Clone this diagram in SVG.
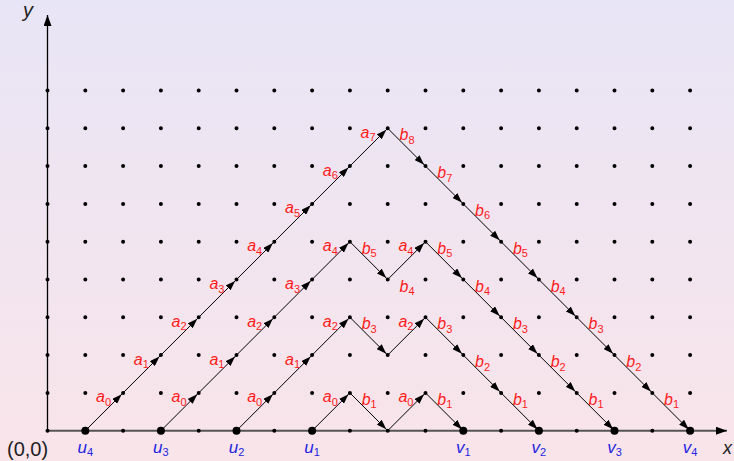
<svg xmlns="http://www.w3.org/2000/svg" width="734" height="461" viewBox="0 0 734 461">
<defs>
<linearGradient id="bg" x1="0" y1="0" x2="0" y2="1">
<stop offset="0" stop-color="#e8e5f6"/>
<stop offset="1" stop-color="#f9e4e9"/>
</linearGradient>
<marker id="ar" markerUnits="userSpaceOnUse" viewBox="0 0 10 7" markerWidth="10" markerHeight="7" refX="12" refY="3.5" orient="auto">
<path d="M0,0 L10,3.5 L0,7 z" fill="#000"/>
</marker>
<marker id="ax" markerUnits="userSpaceOnUse" viewBox="0 0 11 8" markerWidth="11" markerHeight="8" refX="11" refY="4" orient="auto">
<path d="M0,0 L11,4 L0,8 z" fill="#000"/>
</marker>
<style>
.grid{fill:none;stroke:#000;stroke-width:4;stroke-linecap:round;stroke-dasharray:0 37.8}
.seg line{stroke:#000;stroke-width:1;marker-end:url(#ar)}
.big{fill:#000}
.lab{font-family:"Liberation Sans",Arial,sans-serif;font-size:16px;font-style:italic;fill:#ff1a1a}
.lab tspan{font-size:11px;font-style:normal}
.uv{font-family:"Liberation Sans",Arial,sans-serif;font-size:17px;font-style:italic;fill:#2424e0;text-anchor:middle}
.uv tspan{font-size:11px;font-style:normal}
.axl{font-family:"Liberation Sans",Arial,sans-serif;fill:#222}
</style>
</defs>
<rect width="734" height="461" fill="url(#bg)"/>
<g id="axes">
<line x1="47.5" y1="430.7" x2="727" y2="430.7" stroke="#555" stroke-width="2" marker-end="url(#ax)"/>
<line x1="47.5" y1="430.7" x2="47.5" y2="15" stroke="#000" stroke-width="1.3" marker-end="url(#ax)"/>
<text class="axl" x="23" y="17" font-size="20" font-style="italic">y</text>
<text class="axl" x="723" y="454" font-size="18" font-style="italic">x</text>
<text class="axl" x="7" y="456" font-size="20">(0,0)</text>
</g>
<g id="grid">
<path class="grid" d="M47.5 430.7H690.5M47.5 392.9H690.5M47.5 355.1H690.5M47.5 317.3H690.5M47.5 279.5H690.5M47.5 241.7H690.5M47.5 203.9H690.5M47.5 166.1H690.5M47.5 128.3H690.5M47.5 90.5H690.5"/>
</g>
<g id="connectors" class="seg">
<line x1="85.3" y1="430.7" x2="123.1" y2="392.9"/>
<line x1="123.1" y1="392.9" x2="160.9" y2="355.1"/>
<line x1="160.9" y1="355.1" x2="198.7" y2="317.3"/>
<line x1="198.7" y1="317.3" x2="236.5" y2="279.5"/>
<line x1="236.5" y1="279.5" x2="274.3" y2="241.7"/>
<line x1="274.3" y1="241.7" x2="312.1" y2="203.9"/>
<line x1="312.1" y1="203.9" x2="349.9" y2="166.1"/>
<line x1="349.9" y1="166.1" x2="387.7" y2="128.3"/>
<line x1="387.7" y1="128.3" x2="425.5" y2="166.1"/>
<line x1="425.5" y1="166.1" x2="463.3" y2="203.9"/>
<line x1="463.3" y1="203.9" x2="501.1" y2="241.7"/>
<line x1="501.1" y1="241.7" x2="538.9" y2="279.5"/>
<line x1="538.9" y1="279.5" x2="576.7" y2="317.3"/>
<line x1="576.7" y1="317.3" x2="614.5" y2="355.1"/>
<line x1="614.5" y1="355.1" x2="652.3" y2="392.9"/>
<line x1="652.3" y1="392.9" x2="690.1" y2="430.7"/>
<line x1="160.9" y1="430.7" x2="198.7" y2="392.9"/>
<line x1="198.7" y1="392.9" x2="236.5" y2="355.1"/>
<line x1="236.5" y1="355.1" x2="274.3" y2="317.3"/>
<line x1="274.3" y1="317.3" x2="312.1" y2="279.5"/>
<line x1="312.1" y1="279.5" x2="349.9" y2="241.7"/>
<line x1="349.9" y1="241.7" x2="387.7" y2="279.5"/>
<line x1="387.7" y1="279.5" x2="425.5" y2="241.7"/>
<line x1="425.5" y1="241.7" x2="463.3" y2="279.5"/>
<line x1="463.3" y1="279.5" x2="501.1" y2="317.3"/>
<line x1="501.1" y1="317.3" x2="538.9" y2="355.1"/>
<line x1="538.9" y1="355.1" x2="576.7" y2="392.9"/>
<line x1="576.7" y1="392.9" x2="614.5" y2="430.7"/>
<line x1="236.5" y1="430.7" x2="274.3" y2="392.9"/>
<line x1="274.3" y1="392.9" x2="312.1" y2="355.1"/>
<line x1="312.1" y1="355.1" x2="349.9" y2="317.3"/>
<line x1="349.9" y1="317.3" x2="387.7" y2="355.1"/>
<line x1="387.7" y1="355.1" x2="425.5" y2="317.3"/>
<line x1="425.5" y1="317.3" x2="463.3" y2="355.1"/>
<line x1="463.3" y1="355.1" x2="501.1" y2="392.9"/>
<line x1="501.1" y1="392.9" x2="538.9" y2="430.7"/>
<line x1="312.1" y1="430.7" x2="349.9" y2="392.9"/>
<line x1="349.9" y1="392.9" x2="387.7" y2="430.7"/>
<line x1="387.7" y1="430.7" x2="425.5" y2="392.9"/>
<line x1="425.5" y1="392.9" x2="463.3" y2="430.7"/>
</g>
<g id="u4"><circle class="big" cx="85.3" cy="430.7" r="4"/><text class="uv" x="85.3" y="452.5">u<tspan dy="3">4</tspan></text></g>
<g id="u3"><circle class="big" cx="160.9" cy="430.7" r="4"/><text class="uv" x="160.9" y="452.5">u<tspan dy="3">3</tspan></text></g>
<g id="u2"><circle class="big" cx="236.5" cy="430.7" r="4"/><text class="uv" x="236.5" y="452.5">u<tspan dy="3">2</tspan></text></g>
<g id="u1"><circle class="big" cx="312.1" cy="430.7" r="4"/><text class="uv" x="312.1" y="452.5">u<tspan dy="3">1</tspan></text></g>
<g id="v1"><circle class="big" cx="463.3" cy="430.7" r="4"/><text class="uv" x="463.3" y="452.5">v<tspan dy="3">1</tspan></text></g>
<g id="v2"><circle class="big" cx="538.9" cy="430.7" r="4"/><text class="uv" x="538.9" y="452.5">v<tspan dy="3">2</tspan></text></g>
<g id="v3"><circle class="big" cx="614.5" cy="430.7" r="4"/><text class="uv" x="614.5" y="452.5">v<tspan dy="3">3</tspan></text></g>
<g id="v4"><circle class="big" cx="690.1" cy="430.7" r="4"/><text class="uv" x="690.1" y="452.5">v<tspan dy="3">4</tspan></text></g>
<g id="labels" class="lab">
<text x="96" y="402.4">a<tspan dy="3.5">0</tspan></text>
<text x="133.8" y="364.6">a<tspan dy="3.5">1</tspan></text>
<text x="171.6" y="326.8">a<tspan dy="3.5">2</tspan></text>
<text x="209.4" y="289">a<tspan dy="3.5">3</tspan></text>
<text x="247.2" y="251.2">a<tspan dy="3.5">4</tspan></text>
<text x="285" y="213.4">a<tspan dy="3.5">5</tspan></text>
<text x="322.8" y="175.6">a<tspan dy="3.5">6</tspan></text>
<text x="360.6" y="137.8">a<tspan dy="3.5">7</tspan></text>
<text x="399.5" y="140.3">b<tspan dy="3.5">8</tspan></text>
<text x="437.3" y="178.1">b<tspan dy="3.5">7</tspan></text>
<text x="475.1" y="215.9">b<tspan dy="3.5">6</tspan></text>
<text x="512.9" y="253.7">b<tspan dy="3.5">5</tspan></text>
<text x="550.7" y="291.5">b<tspan dy="3.5">4</tspan></text>
<text x="588.5" y="329.3">b<tspan dy="3.5">3</tspan></text>
<text x="626.3" y="367.1">b<tspan dy="3.5">2</tspan></text>
<text x="664.1" y="404.9">b<tspan dy="3.5">1</tspan></text>
<text x="171.6" y="402.4">a<tspan dy="3.5">0</tspan></text>
<text x="209.4" y="364.6">a<tspan dy="3.5">1</tspan></text>
<text x="247.2" y="326.8">a<tspan dy="3.5">2</tspan></text>
<text x="285" y="289">a<tspan dy="3.5">3</tspan></text>
<text x="322.8" y="251.2">a<tspan dy="3.5">4</tspan></text>
<text x="361.7" y="253.7">b<tspan dy="3.5">5</tspan></text>
<text x="399.5" y="291.5">b<tspan dy="3.5">4</tspan></text>
<text x="398.4" y="251.2">a<tspan dy="3.5">4</tspan></text>
<text x="437.3" y="253.7">b<tspan dy="3.5">5</tspan></text>
<text x="475.1" y="291.5">b<tspan dy="3.5">4</tspan></text>
<text x="512.9" y="329.3">b<tspan dy="3.5">3</tspan></text>
<text x="550.7" y="367.1">b<tspan dy="3.5">2</tspan></text>
<text x="588.5" y="404.9">b<tspan dy="3.5">1</tspan></text>
<text x="247.2" y="402.4">a<tspan dy="3.5">0</tspan></text>
<text x="285" y="364.6">a<tspan dy="3.5">1</tspan></text>
<text x="322.8" y="326.8">a<tspan dy="3.5">2</tspan></text>
<text x="361.7" y="329.3">b<tspan dy="3.5">3</tspan></text>
<text x="398.4" y="326.8">a<tspan dy="3.5">2</tspan></text>
<text x="437.3" y="329.3">b<tspan dy="3.5">3</tspan></text>
<text x="475.1" y="367.1">b<tspan dy="3.5">2</tspan></text>
<text x="512.9" y="404.9">b<tspan dy="3.5">1</tspan></text>
<text x="322.8" y="402.4">a<tspan dy="3.5">0</tspan></text>
<text x="361.7" y="404.9">b<tspan dy="3.5">1</tspan></text>
<text x="398.4" y="402.4">a<tspan dy="3.5">0</tspan></text>
<text x="437.3" y="404.9">b<tspan dy="3.5">1</tspan></text>
</g>
</svg>
